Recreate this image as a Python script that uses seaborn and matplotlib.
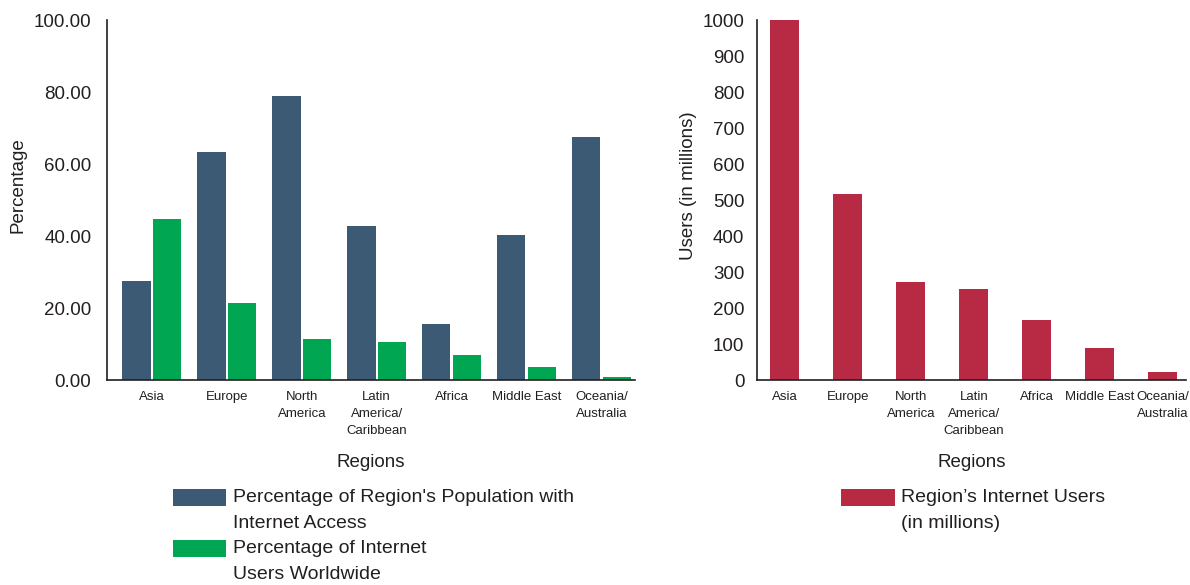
import matplotlib
matplotlib.use("Agg")
import matplotlib.pyplot as plt
import seaborn as sns
import pandas as pd
from matplotlib.patches import Patch, Rectangle
from matplotlib.legend_handler import HandlerPatch
from matplotlib.ticker import FormatStrFormatter

# ---- data ----
regions = ["Asia", "Europe", "North\nAmerica", "Latin\nAmerica/\nCaribbean",
           "Africa", "Middle East", "Oceania/\nAustralia"]
pct_population_access = [27.5, 63.2, 78.8, 42.9, 15.6, 40.4, 67.6]
pct_users_worldwide = [44.8, 21.4, 11.4, 10.6, 7.0, 3.6, 0.8]
users_millions = [1000, 518, 272, 253, 166, 88, 22]

series_names = ["Percentage of Region's Population with\nInternet Access",
                "Percentage of Internet\nUsers Worldwide"]
users_label = "Region\u2019s Internet Users\n(in millions)"

left_yticks = [0, 20, 40, 60, 80, 100]
right_yticks = [0, 100, 200, 300, 400, 500, 600, 700, 800, 900, 1000]

BLUE = "#3C5A74"
GREEN = "#00A651"
RED = "#B82944"
INK = "#231F20"

sns.set_theme(style="white")
plt.rcParams["font.family"] = ["Liberation Sans", "DejaVu Sans"]
plt.rcParams["text.color"] = INK
plt.rcParams["axes.labelcolor"] = INK
plt.rcParams["xtick.color"] = INK
plt.rcParams["ytick.color"] = INK

df = pd.DataFrame({
    "Region": regions * 2,
    "Series": [series_names[0]] * len(regions) + [series_names[1]] * len(regions),
    "Value": pct_population_access + pct_users_worldwide,
})
df_users = pd.DataFrame({"Region": regions, "Users": users_millions})

fig = plt.figure(figsize=(11.9, 5.85), dpi=100)
ax1 = fig.add_axes([0.0897, 0.3504, 0.4439, 0.6154])
ax2 = fig.add_axes([0.6361, 0.3504, 0.3605, 0.6154])

sns.barplot(data=df, x="Region", y="Value", hue="Series",
            palette=[BLUE, GREEN], width=0.82, gap=0.075,
            saturation=1, ax=ax1, legend=False, linewidth=0)
sns.barplot(data=df_users, x="Region", y="Users", color=RED,
            width=0.46, saturation=1, ax=ax2, linewidth=0)

for ax in (ax1, ax2):
    for s in ("top", "right"):
        ax.spines[s].set_visible(False)
    for s in ("left", "bottom"):
        ax.spines[s].set_color(INK)
        ax.spines[s].set_linewidth(1.2)
    ax.tick_params(axis="x", length=0, labelsize=9.5, pad=8)
    ax.tick_params(axis="y", direction="inout", length=10, width=1.1,
                   labelsize=13.5)
    for lab in ax.get_xticklabels():
        lab.set_linespacing(1.57)
    ax.set_xlabel("Regions", fontsize=13.5)

ax1.set_xlim(-0.602, 6.447)
ax1.set_ylim(0, 100)
ax1.set_yticks(left_yticks)
ax1.yaxis.set_major_formatter(FormatStrFormatter("%.2f"))
ax1.tick_params(axis="y", pad=6)
ax1.set_ylabel("Percentage", fontsize=13.5)
ax1.yaxis.set_label_coords(-0.151, 0.54)
ax1.xaxis.set_label_coords(0.5, -0.205)

ax2.set_xlim(-0.444, 6.365)
ax2.set_ylim(0, 1000)
ax2.set_yticks(right_yticks)
ax2.tick_params(axis="y", pad=4)
ax2.set_ylabel("Users (in millions)", fontsize=13.5)
ax2.yaxis.set_label_coords(-0.14, 0.54)
ax2.xaxis.set_label_coords(0.5, -0.205)


def shifted_rect(legend, orig_handle, xdescent, ydescent, width, height, fontsize):
    return Rectangle((-xdescent, -ydescent + 0.68 * fontsize), width, height)


hmap = {Patch: HandlerPatch(patch_func=shifted_rect)}
leg_kw = dict(loc="upper left", frameon=False, fontsize=14, handlelength=2.73,
              handleheight=0.94, handletextpad=0.35, labelspacing=0.42,
              borderpad=0, borderaxespad=0, bbox_transform=fig.transFigure,
              handler_map=hmap)

h1 = [Patch(color=BLUE, lw=0), Patch(color=GREEN, lw=0)]
leg1 = fig.legend(h1, series_names, bbox_to_anchor=(0.1454, 0.164), **leg_kw)
h2 = [Patch(color=RED, lw=0)]
leg2 = fig.legend(h2, [users_label], bbox_to_anchor=(0.7071, 0.164), **leg_kw)
for leg in (leg1, leg2):
    for t in leg.get_texts():
        t.set_linespacing(1.7)

fig.savefig("out.png", dpi=100)
